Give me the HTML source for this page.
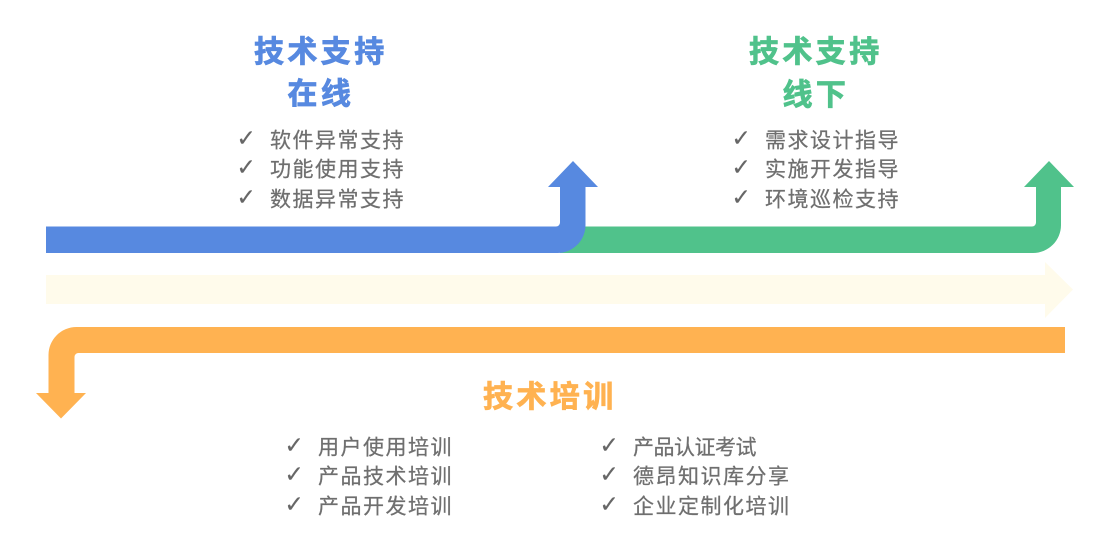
<!DOCTYPE html>
<html lang="zh">
<head>
<meta charset="utf-8">
<style>
html,body{margin:0;padding:0;background:#fff;width:1093px;height:547px;overflow:hidden}
svg{display:block}
text{font-family:"Liberation Sans","Noto Sans CJK SC",sans-serif}
.h{font-size:30px;font-weight:700;letter-spacing:3.4px;stroke-width:.8px}
.t{font-size:21px;fill:#6f6f6f;letter-spacing:1.5px;stroke:#6f6f6f;stroke-width:.25px}
.c{font-size:23px;fill:#666;stroke:#666;stroke-width:.2px;font-family:"DejaVu Sans",sans-serif}
</style>
</head>
<body>
<svg width="1093" height="547" viewBox="0 0 1093 547" xmlns="http://www.w3.org/2000/svg">
<!-- green -->
<path fill="#50c28b" d="M560 226.500H1032a4 4 0 0 0 4-4V187H1024L1049 161L1074 187H1061V225A28 28 0 0 1 1033 253H560Z"/>
<!-- blue -->
<path fill="#5789e0" d="M46 226.500H556a4 4 0 0 0 4-4V187H548L573 161L598 187H585.500V225A28 28 0 0 1 557.500 253H46Z"/>
<!-- cream -->
<path fill="#fffbeb" d="M46 275H1045V262L1073 289.500L1045 318V304H46Z"/>
<!-- orange -->
<path fill="#ffb251" d="M1065 327H76.500A28 28 0 0 0 48.500 355V393H36L61 418.500L86 393H74.500V357a4 4 0 0 1 4-4H1065Z"/>

<text class="h" x="254" y="62" fill="#5789e0" stroke="#5789e0">技术支持</text>
<text class="h" x="287.500" y="104" fill="#5789e0" stroke="#5789e0">在线</text>
<text class="h" x="749" y="62" fill="#50c28b" stroke="#50c28b">技术支持</text>
<text class="h" x="782.500" y="105" fill="#50c28b" stroke="#50c28b">线下</text>
<text class="h" x="483" y="407" fill="#ffb251" stroke="#ffb251">技术培训</text>

<text class="c" x="236.500" y="146">✓</text><text class="t" x="270" y="147.500">软件异常支持</text>
<text class="c" x="236.500" y="175">✓</text><text class="t" x="270" y="176.500">功能使用支持</text>
<text class="c" x="236.500" y="205">✓</text><text class="t" x="270" y="206.500">数据异常支持</text>

<text class="c" x="731.500" y="146">✓</text><text class="t" x="765" y="147.500">需求设计指导</text>
<text class="c" x="731.500" y="175">✓</text><text class="t" x="765" y="176.500">实施开发指导</text>
<text class="c" x="731.500" y="205">✓</text><text class="t" x="765" y="206.500">环境巡检支持</text>

<text class="c" x="284.500" y="453">✓</text><text class="t" x="318" y="454.500">用户使用培训</text>
<text class="c" x="284.500" y="482">✓</text><text class="t" x="318" y="483.500">产品技术培训</text>
<text class="c" x="284.500" y="512">✓</text><text class="t" x="318" y="513.500">产品开发培训</text>

<text class="c" x="599.500" y="453">✓</text><text class="t" x="633" y="454.500" style="letter-spacing:-.5px">产品认证考试</text>
<text class="c" x="599.500" y="482">✓</text><text class="t" x="633" y="483.500">德昂知识库分享</text>
<text class="c" x="599.500" y="512">✓</text><text class="t" x="633" y="513.500">企业定制化培训</text>
</svg>
</body>
</html>
